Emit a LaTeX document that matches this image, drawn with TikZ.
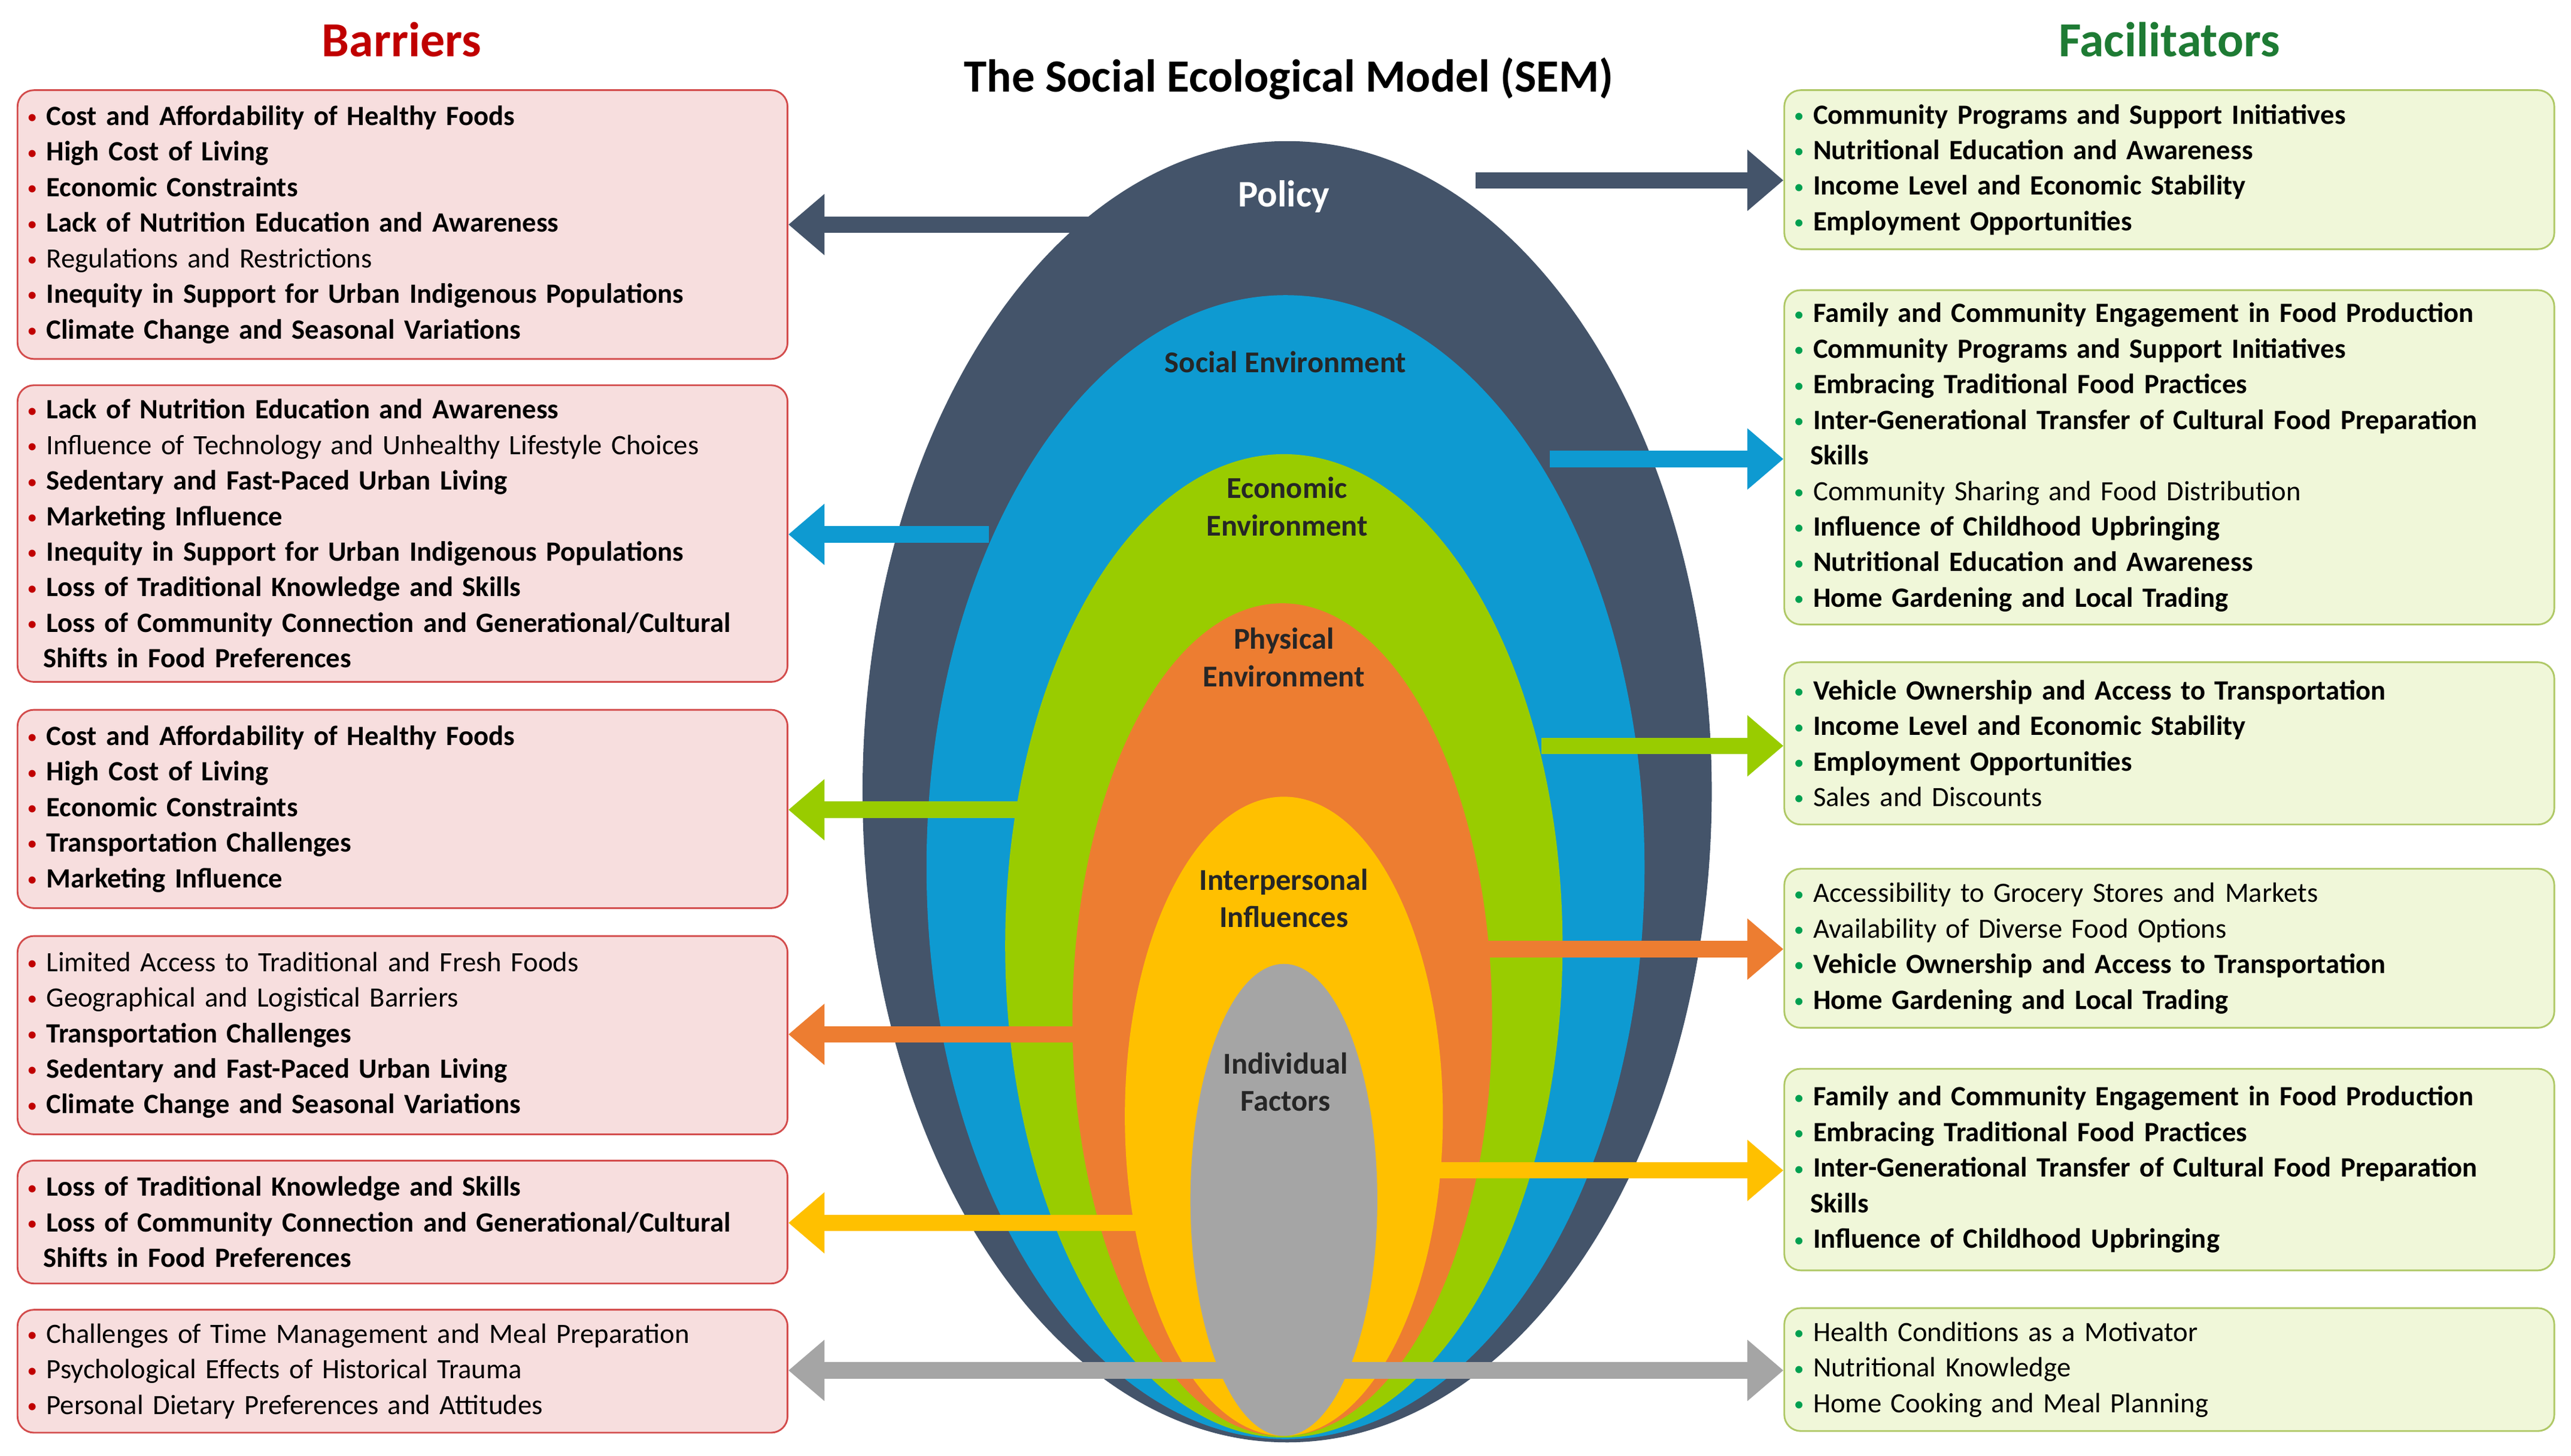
\documentclass[tikz,border=0pt]{standalone}
\usepackage{fontspec}
\setmainfont{Carlito}
\usetikzlibrary{shapes.geometric,arrows.meta}
\hyphenpenalty=10000
\exhyphenpenalty=10000
\definecolor{cPol}{HTML}{44546A}
\definecolor{cSoc}{HTML}{0E9AD1}
\definecolor{cEco}{HTML}{99CC00}
\definecolor{cPhy}{HTML}{ED7D31}
\definecolor{cInt}{HTML}{FFC000}
\definecolor{cInd}{HTML}{A5A5A5}
\definecolor{cRed}{HTML}{C00000}
\definecolor{cGrn}{HTML}{1E7B34}
\definecolor{cBul}{HTML}{00A050}
\tikzset{barbox/.style={
  shape=rectangle,
  rounded corners=0.2cm,
  draw=cRed!70,
  fill=cRed!13,
  line width=0.6pt,
  minimum width=9.38cm,
  text width=9.16cm,
  align=left,
  font=\fontsize{9.7}{12.35}\selectfont,
  }
}
\tikzset{facbox/.style={
  barbox,
  draw=cEco!80!black!60,
  fill=cEco!15!white,
  }
}
\tikzset{layer/.style={
  shape=ellipse,
  inner sep=0pt,
  draw=none,
  }
}
\tikzset{lbl/.style={
  font=\fontsize{10.5}{13}\selectfont\bfseries,
  align=center,
  text=black!85,
  }
}
\tikzset{arr/.style={
  line width=0.2cm,
  -{Triangle[length=0.44cm,width=0.72cm]},
  }
}
\newcommand{\rb}{\textcolor{cRed}{\raisebox{0.12ex}{\scriptsize\textbullet}}~}
\newcommand{\gb}{\textcolor{cBul}{\raisebox{0.12ex}{\scriptsize\textbullet}}~}
\newcommand{\hang}{\hspace*{0.2cm}}

\begin{document}
\begin{tikzpicture}[x=0.02cm,y=-0.02cm]
  \useasboundingbox (0,0) rectangle (1568,888);
  % headings
  \node[font=\fontsize{17}{20}\selectfont\bfseries, text=cRed] (hbar) at (245,24) {Barriers};
  \node[font=\fontsize{17}{20}\selectfont\bfseries, text=cGrn] (hfac) at (1323,24) {Facilitators};
  \node[font=\fontsize{16}{19}\selectfont\bfseries] (title) at (786,48) {The Social Ecological Model (SEM)};

  % barriers
  \node[barbox, minimum height=3.28cm] (b1) at (245.5,137) {\rb\textbf{Cost and Affordability of Healthy Foods}\\ \rb\textbf{High Cost of Living}\\ \rb\textbf{Economic Constraints}\\ \rb\textbf{Lack of Nutrition Education and Awareness}\\ \rb Regulations and Restrictions\\ \rb\textbf{Inequity in Support for Urban Indigenous Populations}\\ \rb\textbf{Climate Change and Seasonal Variations}};
  \node[barbox, minimum height=3.62cm] (b2) at (245.5,325.5) {\rb\textbf{Lack of Nutrition Education and Awareness}\\ \rb Influence of Technology and Unhealthy Lifestyle Choices\\ \rb\textbf{Sedentary and Fast-Paced Urban Living}\\ \rb\textbf{Marketing Influence}\\ \rb\textbf{Inequity in Support for Urban Indigenous Populations}\\ \rb\textbf{Loss of Traditional Knowledge and Skills}\\ \rb\textbf{Loss of Community Connection and Generational/Cultural}\\ \hang\textbf{Shifts in Food Preferences}};
  \node[barbox, minimum height=2.42cm] (b3) at (245.5,493.5) {\rb\textbf{Cost and Affordability of Healthy Foods}\\ \rb\textbf{High Cost of Living}\\ \rb\textbf{Economic Constraints}\\ \rb\textbf{Transportation Challenges}\\ \rb\textbf{Marketing Influence}};
  \node[barbox, minimum height=2.42cm] (b4) at (245.5,631.5) {\rb Limited Access to Traditional and Fresh Foods\\ \rb Geographical and Logistical Barriers\\ \rb\textbf{Transportation Challenges}\\ \rb\textbf{Sedentary and Fast-Paced Urban Living}\\ \rb\textbf{Climate Change and Seasonal Variations}};
  \node[barbox, minimum height=1.5cm] (b5) at (245.5,745.5) {\rb\textbf{Loss of Traditional Knowledge and Skills}\\ \rb\textbf{Loss of Community Connection and Generational/Cultural}\\ \hang\textbf{Shifts in Food Preferences}};
  \node[barbox, minimum height=1.5cm] (b6) at (245.5,836.5) {\rb Challenges of Time Management and Meal Preparation\\ \rb Psychological Effects of Historical Trauma\\ \rb Personal Dietary Preferences and Attitudes};

  % facilitators
  \node[facbox, minimum height=1.94cm] (f1) at (1323,103.5) {\gb\textbf{Community Programs and Support Initiatives}\\ \gb\textbf{Nutritional Education and Awareness}\\ \gb\textbf{Income Level and Economic Stability}\\ \gb\textbf{Employment Opportunities}};
  \node[facbox, minimum height=4.08cm] (f2) at (1323,279) {\gb\textbf{Family and Community Engagement in Food Production}\\ \gb\textbf{Community Programs and Support Initiatives}\\ \gb\textbf{Embracing Traditional Food Practices}\\ \gb\textbf{Inter-Generational Transfer of Cultural Food Preparation}\\ \hang\textbf{Skills}\\ \gb Community Sharing and Food Distribution\\ \gb\textbf{Influence of Childhood Upbringing}\\ \gb\textbf{Nutritional Education and Awareness}\\ \gb\textbf{Home Gardening and Local Trading}};
  \node[facbox, minimum height=1.98cm] (f3) at (1323,453.5) {\gb\textbf{Vehicle Ownership and Access to Transportation}\\ \gb\textbf{Income Level and Economic Stability}\\ \gb\textbf{Employment Opportunities}\\ \gb Sales and Discounts};
  \node[facbox, minimum height=1.94cm] (f4) at (1323,578.5) {\gb Accessibility to Grocery Stores and Markets\\ \gb Availability of Diverse Food Options\\ \gb\textbf{Vehicle Ownership and Access to Transportation}\\ \gb\textbf{Home Gardening and Local Trading}};
  \node[facbox, minimum height=2.46cm] (f5) at (1323,713.5) {\gb\textbf{Family and Community Engagement in Food Production}\\ \gb\textbf{Embracing Traditional Food Practices}\\ \gb\textbf{Inter-Generational Transfer of Cultural Food Preparation}\\ \hang\textbf{Skills}\\ \gb\textbf{Influence of Childhood Upbringing}};
  \node[facbox, minimum height=1.5cm] (f6) at (1323,835.5) {\gb Health Conditions as a Motivator\\ \gb Nutritional Knowledge\\ \gb Home Cooking and Meal Planning};

  % layers, each with its arrows
  \node[layer, fill=cPol, minimum width=10.36cm, minimum height=15.88cm] (e1) at (785,483) {};
  \coordinate (pl1) at (665,137);
  \coordinate (pr1) at (900,110);
  \draw[arr, cPol] (pl1) -- (pl1 -| b1.east);
  \draw[arr, cPol] (pr1) -- (pr1 -| f1.west);
  \node[layer, fill=cSoc, minimum width=8.76cm, minimum height=13.96cm] (e2) at (784,529) {};
  \coordinate (pl2) at (603,326);
  \coordinate (pr2) at (945,280);
  \draw[arr, cSoc] (pl2) -- (pl2 -| b2.east);
  \draw[arr, cSoc] (pr2) -- (pr2 -| f2.west);
  \node[layer, fill=cEco, minimum width=6.8cm, minimum height=12.0cm] (e3) at (783,577) {};
  \coordinate (pl3) at (625,494);
  \coordinate (pr3) at (940,455);
  \draw[arr, cEco] (pl3) -- (pl3 -| b3.east);
  \draw[arr, cEco] (pr3) -- (pr3 -| f3.west);
  \node[layer, fill=cPhy, minimum width=5.12cm, minimum height=10.16cm] (e4) at (782,622) {};
  \coordinate (pl4) at (660,631);
  \coordinate (pr4) at (905,579);
  \draw[arr, cPhy] (pl4) -- (pl4 -| b4.east);
  \draw[arr, cPhy] (pr4) -- (pr4 -| f4.west);
  \node[layer, fill=cInt, minimum width=3.88cm, minimum height=7.8cm] (e5) at (783,681) {};
  \coordinate (pl5) at (695,746);
  \coordinate (pr5) at (875,714);
  \draw[arr, cInt] (pl5) -- (pl5 -| b5.east);
  \draw[arr, cInt] (pr5) -- (pr5 -| f5.west);
  \node[layer, fill=cInd, minimum width=2.28cm, minimum height=5.76cm] (e6) at (783,732) {};
  \coordinate (pl6) at (760,836);
  \coordinate (pr6) at (806,836);
  \draw[arr, cInd] (pl6) -- (pl6 -| b6.east);
  \draw[arr, cInd] (pr6) -- (pr6 -| f6.west);

  % layer labels
  \node[lbl, text=white, font=\fontsize{13}{15}\selectfont\bfseries] (t1) at (783,120) {Policy};
  \node[lbl] (t2) at (784,221) {Social Environment};
  \node[lbl] (t3) at (785,309) {Economic\\Environment};
  \node[lbl] (t4) at (783,401) {Physical\\Environment};
  \node[lbl] (t5) at (783,548) {Interpersonal\\Influences};
  \node[lbl] (t6) at (784,660) {Individual\\Factors};
\end{tikzpicture}
\end{document}
